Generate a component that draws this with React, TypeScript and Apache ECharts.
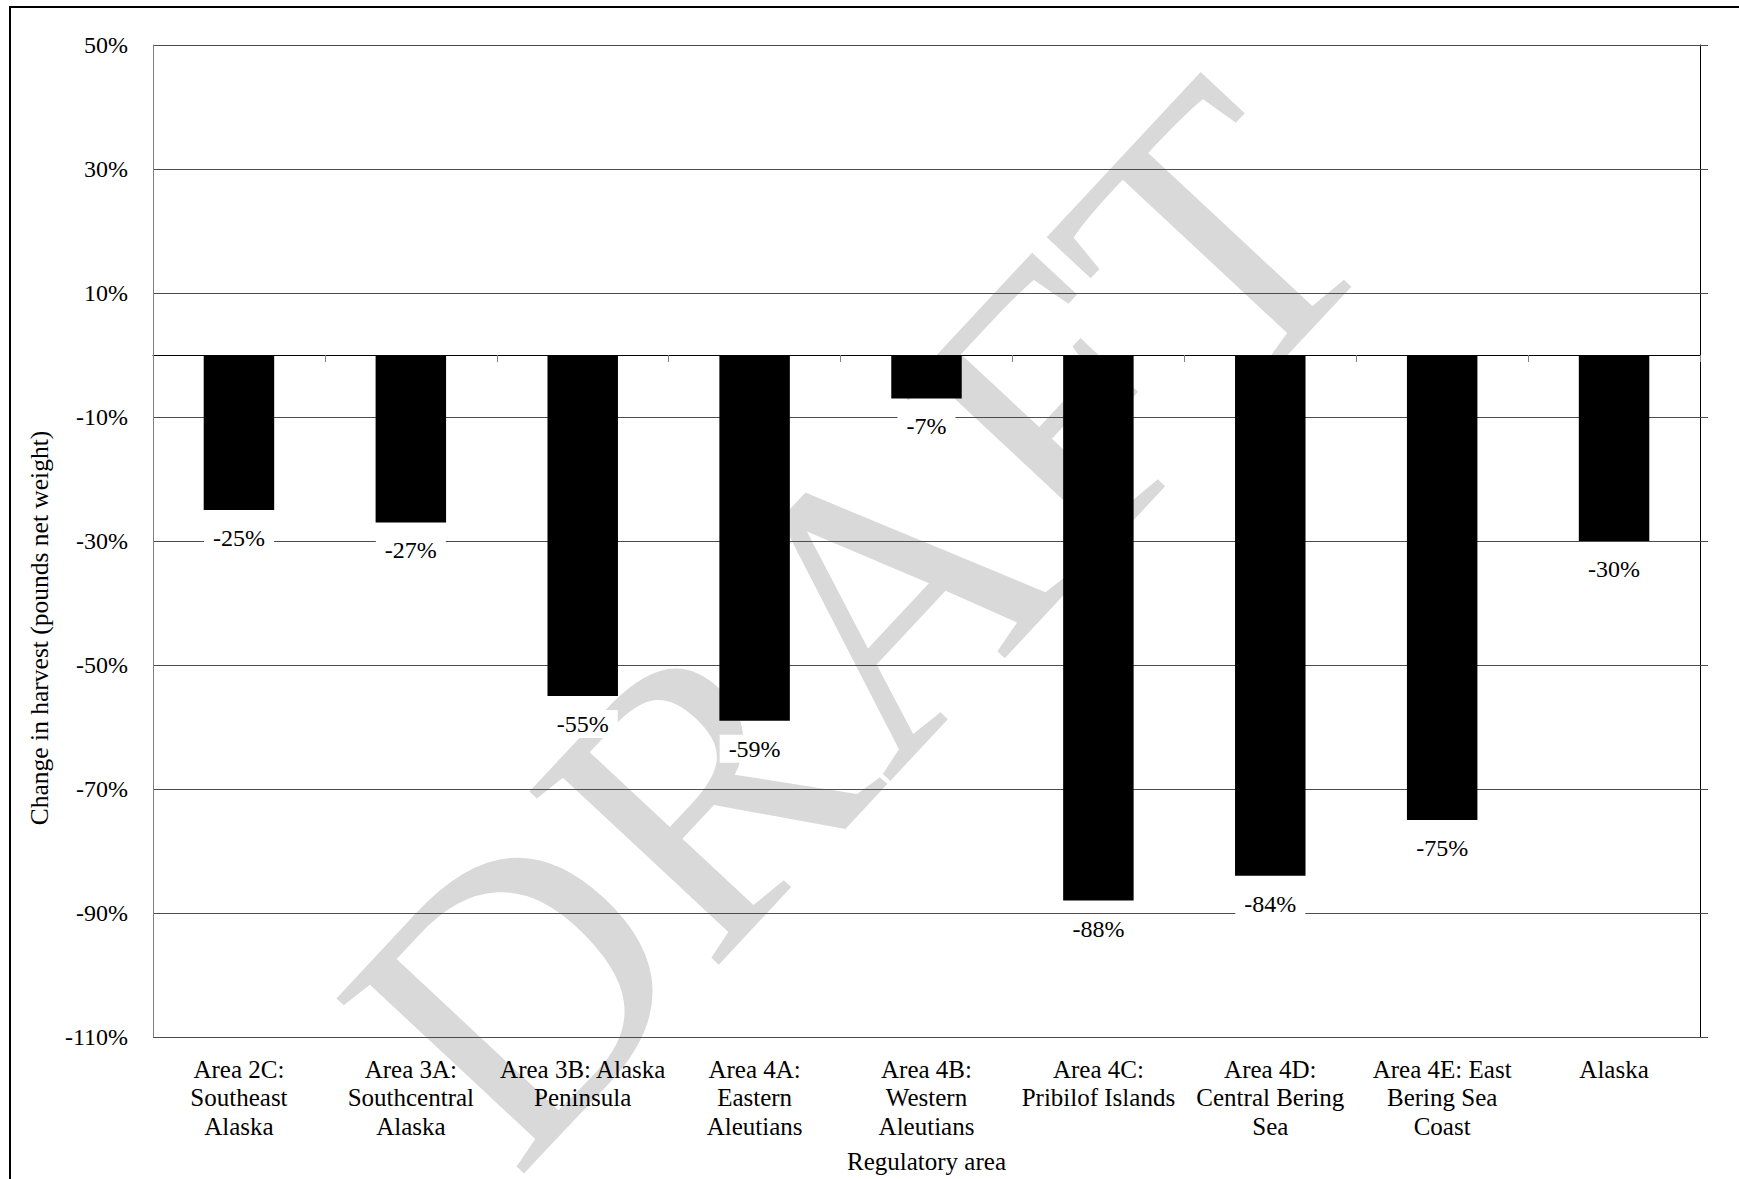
import React, { useEffect, useRef } from "react";
import * as echarts from "echarts";

const categories = [
  "Area 2C:\nSoutheast\nAlaska",
  "Area 3A:\nSouthcentral\nAlaska",
  "Area 3B: Alaska\nPeninsula",
  "Area 4A:\nEastern\nAleutians",
  "Area 4B:\nWestern\nAleutians",
  "Area 4C:\nPribilof Islands",
  "Area 4D:\nCentral Bering\nSea",
  "Area 4E: East\nBering Sea\nCoast",
  "Alaska",
];
const values = [-25, -27, -55, -59, -7, -88, -84, -75, -30];
const yTicks = [50, 30, 10, -10, -30, -50, -70, -90, -110];
const yMin = -110;
const yMax = 50;
const yTitle = "Change in harvest (pounds net weight)";
const xTitle = "Regulatory area";
const watermark = "DRAFT";

const FONT = "Liberation Serif, Times New Roman, serif";

export default function App() {
  const ref = useRef<HTMLDivElement>(null);
  useEffect(() => {
    if (!ref.current) return;
    const chart = echarts.init(ref.current, null, { renderer: "svg" });
    const textBase = { fontFamily: FONT, fontSize: 24, color: "#000" };
    chart.setOption({
      animation: false,
      backgroundColor: "#fff",
      grid: { left: 153, top: 45, right: 39, bottom: 140 },
      xAxis: [
        {
          type: "category",
          data: categories,
          position: "bottom",
          axisLine: { show: true, onZero: true, lineStyle: { color: "#000", width: 1 } },
          axisTick: { show: true, length: 7, lineStyle: { color: "#808080" } },
          axisLabel: { show: false },
          splitLine: { show: false },
        },
        {
          type: "category",
          data: categories,
          position: "bottom",
          axisLine: { show: false, onZero: false },
          axisTick: { show: false },
          axisLabel: { ...textBase, fontSize: 25, lineHeight: 28.5, margin: 18, interval: 0 },
          splitLine: { show: false },
          name: xTitle,
          nameLocation: "middle",
          nameGap: 112,
          nameTextStyle: { ...textBase, fontSize: 25 },
        },
      ],
      yAxis: [
        {
          type: "value",
          min: yMin,
          max: yMax,
          position: "left",
          axisLine: { show: true, lineStyle: { color: "#808080" } },
          axisTick: { show: false, customValues: yTicks },
          axisLabel: {
            ...textBase,
            customValues: yTicks,
            margin: 25,
            formatter: (v: number) => v + "%",
          },
          splitLine: { show: true, lineStyle: { color: "#4d4d4d", width: 1 } },
        },
        {
          type: "value",
          min: yMin,
          max: yMax,
          position: "right",
          axisLine: { show: true, onZero: false, lineStyle: { color: "#000" } },
          axisTick: { show: true, customValues: yTicks, length: 8, lineStyle: { color: "#4d4d4d" } },
          axisLabel: { show: false, customValues: yTicks },
          splitLine: { show: false },
        },
      ],
      series: [
        {
          type: "bar",
          xAxisIndex: 0,
          yAxisIndex: 0,
          data: values,
          barWidth: "41%",
          itemStyle: { color: "#000" },
          label: {
            show: true,
            position: "bottom",
            distance: 14,
            formatter: "{c}%",
            ...textBase,
            lineHeight: 24,
            backgroundColor: "#fff",
            padding: [2, 9],
          },
        },
      ],
      graphic: [
        {
          type: "text",
          x: 858,
          y: 622,
          rotation: (47 * Math.PI) / 180,
          z: -10,
          silent: true,
          style: {
            text: watermark,
            fontFamily: FONT,
            fontSize: 392,
            fill: "#d9d9d9",
            textAlign: "center",
            textVerticalAlign: "middle",
          },
        },
        {
          type: "text",
          x: 39,
          y: 628,
          rotation: Math.PI / 2,
          style: {
            text: yTitle,
            fontFamily: FONT,
            fontSize: 25.5,
            fill: "#000",
            textAlign: "center",
            textVerticalAlign: "middle",
          },
        },
        {
          type: "rect",
          silent: true,
          shape: { x: 10, y: 7, width: 1770, height: 1220 },
          style: { fill: "none", stroke: "#000", lineWidth: 2 },
        },
      ],
    });
    return () => chart.dispose();
  }, []);
  return (
    <div
      ref={ref}
      style={{ position: "absolute", left: 0, top: 0, width: 1739, height: 1179 }}
    />
  );
}
